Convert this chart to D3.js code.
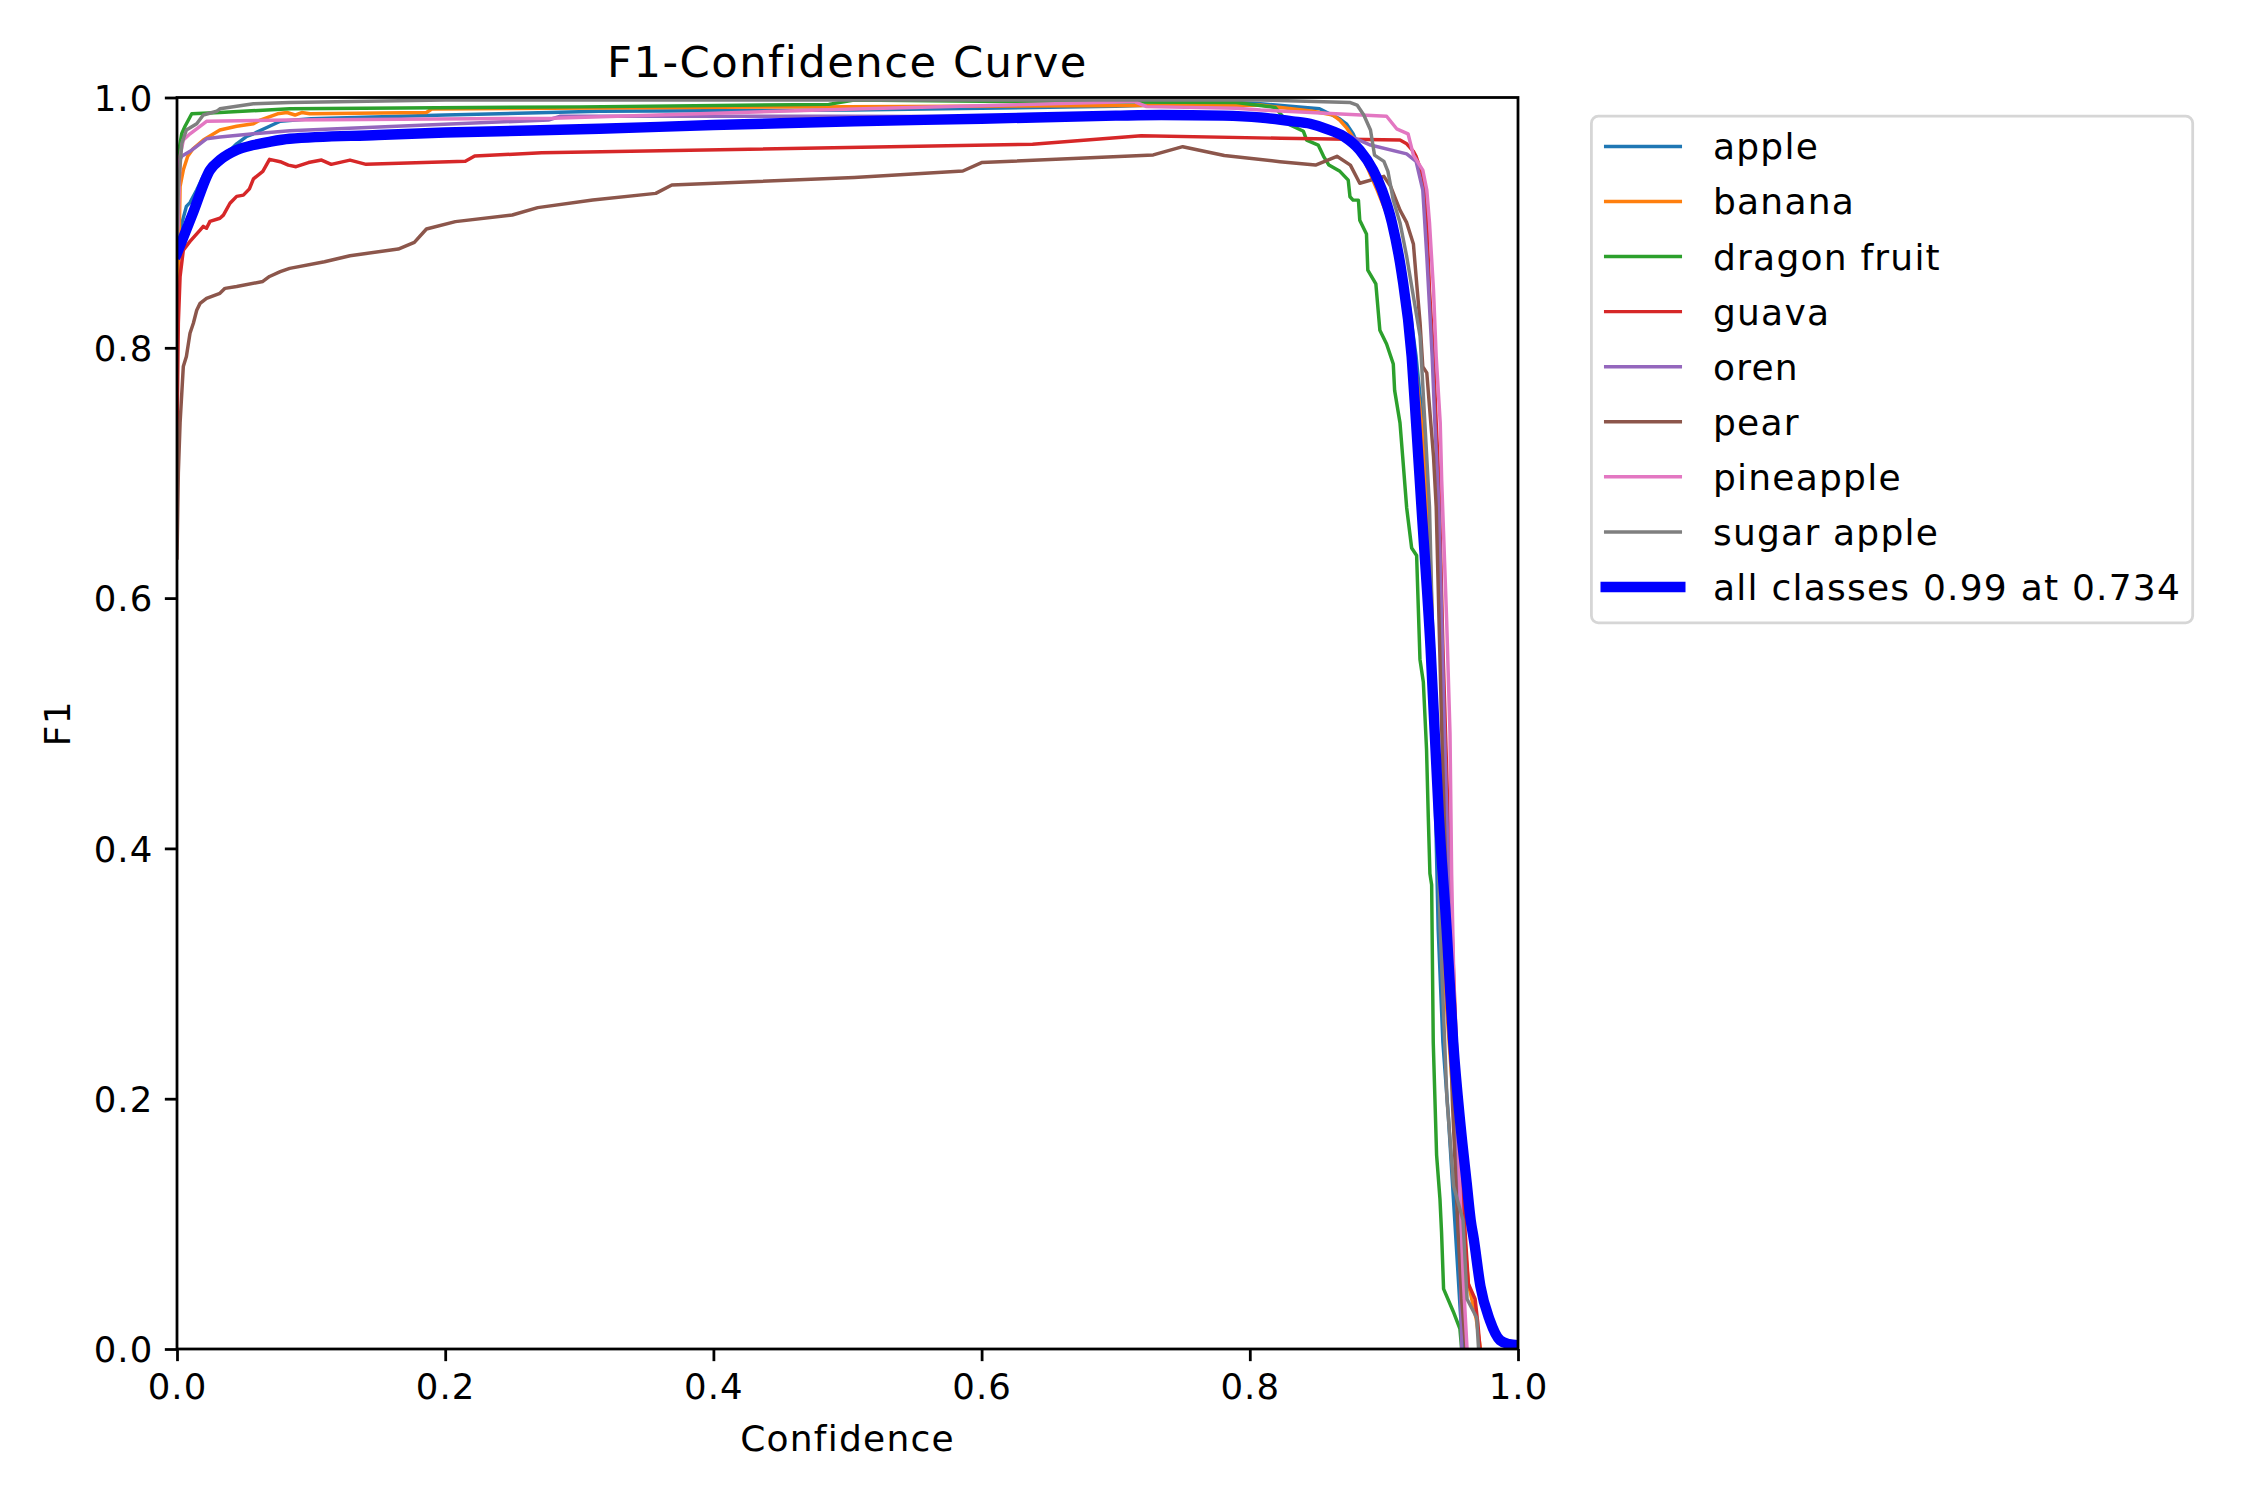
<!DOCTYPE html>
<html>
<head>
<meta charset="utf-8">
<script src="https://cdn.jsdelivr.net/npm/d3@7"></script>
<style>
  html, body { margin: 0; padding: 0; background: #ffffff; }
  svg { display: block; }
  text { font-family: "DejaVu Sans", sans-serif; fill: #000; }
</style>
</head>
<body>
<svg id="chart" width="2250" height="1500"></svg>
<script>
// ---------------- data (confidence, F1) ----------------
const classNames = ["apple", "banana", "dragon fruit", "guava", "oren", "pear", "pineapple", "sugar apple"];
const classColors = ["#1f77b4", "#ff7f0e", "#2ca02c", "#d62728", "#9467bd", "#8c564b", "#e377c2", "#7f7f7f"];
const xTicks = [0, 0.2, 0.4, 0.6, 0.8, 1.0];
const yTicks = [0, 0.2, 0.4, 0.6, 0.8, 1.0];
const allLabel = "all classes 0.99 at 0.734";

const apple = [[0,0.86],[0.001,0.88],[0.0035,0.899],[0.007,0.913],[0.0097,0.916],[0.0147,0.926],[0.0196,0.937],[0.027,0.945],[0.037,0.955],[0.0445,0.963],[0.052,0.969],[0.057,0.971],[0.069,0.977],[0.077,0.981],[0.1,0.983],[0.2,0.986],[0.315,0.989],[0.505,0.990],[0.7,0.993],[0.79,0.996],[0.808,0.995],[0.852,0.991],[0.867,0.983],[0.872,0.979],[0.877,0.971],[0.882,0.959],[0.890,0.942],[0.897,0.926],[0.902,0.915],[0.907,0.894],[0.914,0.868],[0.919,0.833],[0.924,0.793],[0.929,0.740],[0.932,0.673],[0.936,0.55],[0.9405,0.335],[0.944,0.245],[0.948,0.187],[0.953,0.1],[0.957,0.03],[0.959,0]];
const banana = [[0,0.83],[0.001,0.846],[0.0023,0.929],[0.0047,0.942],[0.008,0.953],[0.012,0.959],[0.0196,0.966],[0.032,0.974],[0.0445,0.977],[0.057,0.979],[0.062,0.982],[0.075,0.987],[0.082,0.988],[0.088,0.986],[0.093,0.988],[0.099,0.987],[0.186,0.988],[0.19,0.9908],[0.5,0.9927],[0.8076,0.994],[0.847,0.989],[0.862,0.986],[0.867,0.982],[0.872,0.976],[0.877,0.968],[0.882,0.958],[0.895,0.926],[0.907,0.894],[0.915,0.86],[0.922,0.80],[0.928,0.74],[0.934,0.65],[0.94,0.45],[0.945,0.3],[0.955,0.15],[0.963,0.052],[0.969,0.023],[0.972,0]];
const dragonFruit = [[0,0.93],[0.001,0.955],[0.0035,0.971],[0.006,0.977],[0.0085,0.982],[0.011,0.987],[0.032,0.988],[0.084,0.991],[0.3,0.9925],[0.486,0.9945],[0.505,0.998],[0.6,0.997],[0.79,0.996],[0.819,0.992],[0.830,0.978],[0.840,0.973],[0.8424,0.966],[0.851,0.962],[0.855,0.953],[0.859,0.946],[0.8672,0.941],[0.8734,0.934],[0.8747,0.9207],[0.877,0.918],[0.881,0.918],[0.882,0.902],[0.887,0.891],[0.888,0.862],[0.894,0.851],[0.897,0.814],[0.902,0.803],[0.907,0.787],[0.908,0.766],[0.912,0.740],[0.914,0.713],[0.917,0.672],[0.9207,0.640],[0.9244,0.634],[0.9269,0.551],[0.9294,0.533],[0.9318,0.479],[0.9331,0.425],[0.9343,0.380],[0.9356,0.371],[0.9368,0.245],[0.9393,0.155],[0.9418,0.120],[0.943,0.093],[0.9445,0.048],[0.9517,0.030],[0.9567,0.016],[0.958,0]];
const guava = [[0,0.726],[0.001,0.8196],[0.0023,0.857],[0.0047,0.878],[0.0097,0.885],[0.0172,0.894],[0.0196,0.897],[0.022,0.8955],[0.0246,0.901],[0.032,0.9035],[0.0346,0.906],[0.0395,0.9155],[0.0445,0.921],[0.0495,0.922],[0.054,0.927],[0.057,0.935],[0.064,0.941],[0.069,0.9506],[0.077,0.9487],[0.083,0.946],[0.0888,0.9447],[0.098,0.948],[0.1078,0.950],[0.115,0.9466],[0.129,0.950],[0.141,0.9466],[0.215,0.949],[0.222,0.9532],[0.272,0.9559],[0.638,0.9626],[0.719,0.9695],[0.823,0.9674],[0.912,0.966],[0.917,0.963],[0.922,0.957],[0.924,0.953],[0.929,0.937],[0.932,0.900],[0.934,0.846],[0.937,0.793],[0.939,0.740],[0.941,0.694],[0.944,0.56],[0.948,0.42],[0.952,0.3],[0.956,0.19],[0.960,0.103],[0.963,0.052],[0.968,0.04],[0.970,0.021],[0.9717,0]];
const oren = [[0,0.89],[0.002,0.95],[0.0035,0.953],[0.0097,0.957],[0.0147,0.961],[0.022,0.967],[0.032,0.9685],[0.057,0.971],[0.084,0.9735],[0.277,0.982],[0.286,0.985],[0.5,0.985],[0.8,0.984],[0.84,0.979],[0.867,0.9727],[0.890,0.962],[0.917,0.955],[0.924,0.949],[0.929,0.926],[0.932,0.873],[0.936,0.793],[0.938,0.740],[0.941,0.673],[0.945,0.5],[0.949,0.35],[0.952,0.22],[0.955,0.12],[0.957,0.066],[0.958,0]];
const pear = [[0,0.632],[0.001,0.70],[0.0023,0.740],[0.0047,0.785],[0.007,0.793],[0.0097,0.8116],[0.0122,0.8196],[0.0147,0.830],[0.0172,0.8355],[0.022,0.8395],[0.032,0.8435],[0.0358,0.8475],[0.0445,0.849],[0.064,0.853],[0.069,0.857],[0.077,0.8608],[0.084,0.8635],[0.110,0.8688],[0.129,0.8736],[0.165,0.8789],[0.177,0.8843],[0.186,0.8949],[0.2076,0.9008],[0.250,0.9061],[0.269,0.912],[0.310,0.9181],[0.357,0.9234],[0.369,0.9301],[0.505,0.936],[0.586,0.9413],[0.600,0.948],[0.728,0.9541],[0.750,0.9607],[0.781,0.9536],[0.8225,0.9487],[0.849,0.946],[0.865,0.953],[0.875,0.946],[0.882,0.9315],[0.900,0.937],[0.905,0.929],[0.912,0.910],[0.917,0.900],[0.922,0.883],[0.924,0.857],[0.927,0.8196],[0.929,0.785],[0.932,0.780],[0.934,0.753],[0.937,0.713],[0.939,0.673],[0.943,0.5],[0.947,0.35],[0.951,0.2],[0.955,0.1],[0.958,0.04],[0.961,0]];
const pineapple = [[0,0.885],[0.001,0.90],[0.0023,0.953],[0.0047,0.966],[0.0097,0.971],[0.0147,0.975],[0.0196,0.979],[0.022,0.981],[0.084,0.982],[0.28,0.9834],[0.505,0.9908],[0.714,0.9967],[0.723,0.9927],[0.79,0.9914],[0.808,0.990],[0.902,0.985],[0.9095,0.975],[0.918,0.971],[0.922,0.954],[0.929,0.942],[0.932,0.926],[0.934,0.900],[0.937,0.846],[0.939,0.793],[0.942,0.740],[0.9431,0.694],[0.9468,0.582],[0.9493,0.492],[0.9505,0.38],[0.953,0.25],[0.956,0.15],[0.959,0.06],[0.961,0.02],[0.962,0]];
const sugarApple = [[0,0.88],[0.001,0.926],[0.0035,0.963],[0.007,0.974],[0.0147,0.979],[0.0196,0.986],[0.0296,0.989],[0.032,0.991],[0.057,0.995],[0.084,0.996],[0.2,0.998],[0.808,0.998],[0.875,0.996],[0.880,0.994],[0.885,0.986],[0.890,0.974],[0.893,0.954],[0.900,0.949],[0.903,0.941],[0.907,0.918],[0.912,0.900],[0.917,0.873],[0.922,0.841],[0.927,0.809],[0.934,0.673],[0.938,0.5],[0.942,0.335],[0.947,0.2],[0.952,0.13],[0.959,0.103],[0.962,0.04],[0.9692,0.025],[0.9706,0]];
const allClasses = [[0,0.8755],[0.012,0.908],[0.0246,0.942],[0.032,0.950],[0.0445,0.958],[0.057,0.962],[0.069,0.9646],[0.084,0.967],[0.15,0.970],[0.2,0.972],[0.315,0.975],[0.4,0.978],[0.505,0.981],[0.6,0.983],[0.7,0.9855],[0.734,0.986],[0.78,0.9855],[0.808,0.984],[0.832,0.981],[0.845,0.979],[0.857,0.975],[0.870,0.969],[0.882,0.958],[0.892,0.942],[0.8986,0.926],[0.906,0.900],[0.9132,0.860],[0.9207,0.793],[0.924,0.740],[0.928,0.673],[0.9348,0.56],[0.941,0.425],[0.9468,0.335],[0.9517,0.245],[0.9572,0.178],[0.9617,0.133],[0.9647,0.103],[0.967,0.088],[0.972,0.05],[0.979,0.023],[0.9866,0.007],[0.993,0.004],[1.0,0.003]];

const classSeries = [apple, banana, dragonFruit, guava, oren, pear, pineapple, sugarApple];

// ---------------- layout ----------------
const svg = d3.select("#chart");
const plot = { left: 177, right: 1518, top: 97.5, bottom: 1349 };
const x = d3.scaleLinear().domain([0, 1]).range([plot.left, plot.right]);
const y = d3.scaleLinear().domain([0, 1]).range([plot.bottom, plot.top]);

const tickPx = 35.5;
const wordPx = 36;
const wordSpacing = "0.034em";
const thinW = 3.47, thickW = 10.4, spineW = 2.78;

svg.append("defs").append("clipPath").attr("id", "plotclip")
  .append("rect")
  .attr("x", plot.left).attr("y", plot.top)
  .attr("width", plot.right - plot.left).attr("height", plot.bottom - plot.top);

const lineGen = d3.line().x(d => x(d[0])).y(d => y(d[1]));
const smoothGen = d3.line().x(d => x(d[0])).y(d => y(d[1])).curve(d3.curveMonotoneX);

const lines = svg.append("g").attr("clip-path", "url(#plotclip)");
classSeries.forEach((s, i) => {
  lines.append("path")
    .datum(s)
    .attr("d", lineGen)
    .attr("fill", "none")
    .attr("stroke", classColors[i])
    .attr("stroke-width", thinW)
    .attr("stroke-linejoin", "round")
    .attr("stroke-linecap", "square");
});
lines.append("path")
  .datum(allClasses)
  .attr("d", smoothGen)
  .attr("fill", "none")
  .attr("stroke", "#0000ff")
  .attr("stroke-width", thickW)
  .attr("stroke-linejoin", "round")
  .attr("stroke-linecap", "square");

// ---------------- axes ----------------
const fmt = d3.format(".1f");
const xAxis = svg.append("g")
  .attr("transform", `translate(0,${plot.bottom})`)
  .call(d3.axisBottom(x).tickValues(xTicks).tickFormat(fmt).tickSize(12.15).tickSizeOuter(0).tickPadding(12.8));
const yAxis = svg.append("g")
  .attr("transform", `translate(${plot.left},0)`)
  .call(d3.axisLeft(y).tickValues(yTicks).tickFormat(fmt).tickSize(12.15).tickSizeOuter(0).tickPadding(11.5));

[xAxis, yAxis].forEach(g => {
  g.select(".domain").remove();
  g.selectAll(".tick line").attr("stroke", "#000").attr("stroke-width", spineW);
  g.selectAll(".tick text")
    .attr("font-family", "DejaVu Sans")
    .attr("font-size", tickPx)
    .attr("letter-spacing", "0.03em")
    .attr("fill", "#000");
});
yAxis.selectAll(".tick text").attr("dy", "0.36em");

// spines
svg.append("rect")
  .attr("x", plot.left).attr("y", plot.top)
  .attr("width", plot.right - plot.left).attr("height", plot.bottom - plot.top)
  .attr("fill", "none").attr("stroke", "#000").attr("stroke-width", spineW);

// titles
const cx = (plot.left + plot.right) / 2;
svg.append("text")
  .attr("x", cx).attr("y", 76.7)
  .attr("text-anchor", "middle")
  .attr("font-size", 43.3)
  .attr("letter-spacing", wordSpacing)
  .text("F1-Confidence Curve");
svg.append("text")
  .attr("x", cx).attr("y", 1450.5)
  .attr("text-anchor", "middle")
  .attr("font-size", wordPx)
  .attr("letter-spacing", wordSpacing)
  .text("Confidence");
svg.append("text")
  .attr("transform", `translate(70,${(plot.top + plot.bottom) / 2}) rotate(-90)`)
  .attr("text-anchor", "middle")
  .attr("font-size", wordPx)
  .attr("letter-spacing", wordSpacing)
  .text("F1");

// ---------------- legend ----------------
const legend = svg.append("g");
legend.append("rect")
  .attr("x", 1591.4).attr("y", 116.2)
  .attr("width", 601.3).attr("height", 506.6)
  .attr("rx", 7).attr("ry", 7)
  .attr("fill", "#ffffff").attr("fill-opacity", 0.8)
  .attr("stroke", "#d6d6d6").attr("stroke-width", spineW);

const legendNames = classNames.concat([allLabel]);
const legendColors = classColors.concat(["#0000ff"]);
const rowY = d3.scaleLinear().domain([0, 8]).range([146.4, 587]);
legendNames.forEach((name, i) => {
  const yy = rowY(i);
  legend.append("line")
    .attr("x1", 1605.7).attr("x2", 1680.3)
    .attr("y1", yy).attr("y2", yy)
    .attr("stroke", legendColors[i])
    .attr("stroke-width", i === 8 ? thickW : thinW)
    .attr("stroke-linecap", "square");
  legend.append("text")
    .attr("x", 1713).attr("y", yy + 13)
    .attr("font-size", wordPx)
    .attr("letter-spacing", wordSpacing)
    .text(name);
});
</script>
</body>
</html>
